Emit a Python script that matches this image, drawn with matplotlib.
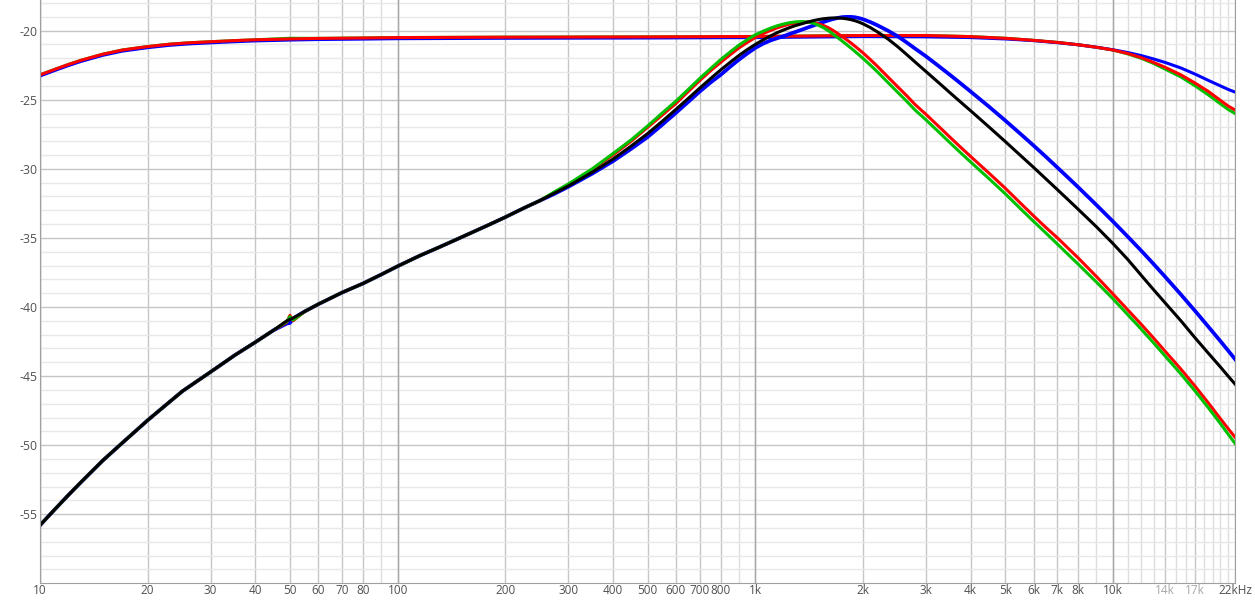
import numpy as np
import matplotlib
matplotlib.use("Agg")
from matplotlib import pyplot as plt
from matplotlib.ticker import FixedLocator, NullFormatter

plt.rcParams["axes.unicode_minus"] = False

# flat (full range) traces
flat_freq = [10, 11, 12, 13, 15, 17, 20, 23, 26, 30, 35, 40, 50, 60, 80, 100, 200, 500, 1000,
             1500, 2000, 3000, 4000, 5000, 6000, 7000, 8000, 9000, 10000, 11000, 12000, 13000,
             14000, 15500, 17000, 18500, 20000, 21000, 22000]
flat_red = [-23.2, -22.8, -22.45, -22.15, -21.7, -21.4, -21.15, -20.98, -20.88, -20.8, -20.72,
            -20.66, -20.6, -20.56, -20.53, -20.5, -20.47, -20.45, -20.42, -20.38, -20.35,
            -20.35, -20.43, -20.55, -20.7, -20.85, -21.02, -21.2, -21.4, -21.65, -21.95,
            -22.3, -22.65, -23.2, -23.8, -24.4, -25.05, -25.45, -25.75]
flat_green = [-23.2, -22.8, -22.45, -22.15, -21.7, -21.4, -21.15, -20.98, -20.88, -20.8, -20.72,
              -20.66, -20.55, -20.56, -20.53, -20.5, -20.47, -20.45, -20.42, -20.38, -20.35,
              -20.35, -20.43, -20.55, -20.7, -20.85, -21.02, -21.2, -21.4, -21.68, -22.0,
              -22.37, -22.78, -23.35, -24.0, -24.65, -25.3, -25.7, -26.0]
flat_blue = [-23.28, -22.88, -22.53, -22.23, -21.78, -21.48, -21.23, -21.06, -20.96, -20.88,
             -20.8, -20.74, -20.68, -20.64, -20.61, -20.58, -20.55, -20.53, -20.5, -20.46,
             -20.43, -20.45, -20.5, -20.6, -20.72, -20.87, -21.02, -21.2, -21.38, -21.58,
             -21.8, -22.05, -22.3, -22.7, -23.15, -23.6, -24.0, -24.25, -24.45]

# band-pass traces
bp_freq = [10, 11, 12, 13, 14, 15, 17, 20, 22, 25, 30, 35, 40, 45, 49, 50, 51, 55, 60, 70, 80,
           90, 100, 115, 130, 145, 160, 180, 200, 225, 250, 275, 300, 350, 400, 450, 500, 550,
           600, 650, 700, 750, 800, 850, 900, 950, 1000, 1050, 1100, 1150, 1200, 1250, 1300,
           1350, 1400, 1450, 1500, 1550, 1600, 1650, 1700, 1750, 1800, 1850, 1900, 1950, 2000,
           2100, 2200, 2350, 2500, 2650, 2800, 3000, 3250, 3500, 3750, 4000, 4500, 5000, 5500,
           6000, 6500, 7000, 7500, 8000, 9000, 10000, 11000, 12000, 13000, 14000, 15500, 17000,
           18500, 20000, 21000, 22000]
low_end = [-55.8, -54.65, -53.62, -52.7, -51.87, -51.1, -49.83, -48.2, -47.3, -46.1, -44.7,
           -43.5, -42.55, -41.68]
mid_end = [-40.32, -39.8, -38.95, -38.3, -37.65, -37.05, -36.3, -35.7, -35.15, -34.65, -34.05,
           -33.5, -32.85, -32.3]

bp_green = low_end + [-41.05, -40.7, -40.95] + mid_end + [
    -31.65, -31.1, -30.0, -28.9, -27.9, -26.9, -25.95, -25.1, -24.25, -23.45, -22.75, -22.1,
    -21.55, -21.05, -20.65, -20.3, -20.05, -19.83, -19.65, -19.52, -19.42, -19.36, -19.34,
    -19.37, -19.45, -19.6, -19.78, -20.0, -20.25, -20.5, -20.75, -21.0, -21.25, -21.5, -21.75,
    -22.0, -22.5, -23.0, -23.75, -24.45, -25.1, -25.75, -26.45, -27.3, -28.1, -28.83,
    -29.5, -30.7, -31.8, -32.85, -33.8, -34.65, -35.45, -36.2, -36.9, -38.2, -39.4, -40.55,
    -41.6, -42.6, -43.55, -44.85, -46.1, -47.3, -48.45, -49.2, -49.9]
bp_red = low_end + [-41.1, -40.6, -41.0] + mid_end + [
    -31.7, -31.15, -30.05, -29.0, -28.0, -27.0, -26.1, -25.27, -24.4, -23.6, -22.9, -22.3,
    -21.75, -21.25, -20.85, -20.5, -20.22, -20.0, -19.8, -19.65, -19.52, -19.44, -19.39,
    -19.38, -19.42, -19.5, -19.62, -19.78, -19.98, -20.2, -20.42, -20.65, -20.88, -21.12,
    -21.36, -21.6, -22.1, -22.6, -23.35, -24.05, -24.7, -25.35, -26.05, -26.9, -27.7,
    -28.43, -29.1, -30.3, -31.4, -32.45, -33.4, -34.25, -35.0, -35.75, -36.45, -37.8,
    -39.05, -40.2, -41.25, -42.25, -43.2, -44.5, -45.75, -46.95, -48.1, -48.8, -49.45]
bp_black = low_end + [-41.0, -40.9, -40.8] + mid_end + [
    -31.75, -31.25, -30.25, -29.3, -28.35, -27.45, -26.55, -25.7, -24.9, -24.15, -23.47,
    -22.85, -22.3, -21.8, -21.37, -21.0, -20.68, -20.4, -20.15, -19.95, -19.77, -19.62,
    -19.5, -19.38, -19.28, -19.2, -19.14, -19.1, -19.08, -19.08, -19.1, -19.14, -19.2, -19.28,
    -19.38, -19.5, -19.78, -20.1, -20.6, -21.15, -21.72, -22.27, -22.95, -23.74, -24.48,
    -25.16, -25.79, -26.96, -28.02, -29.0, -29.89, -30.73, -31.51, -32.24, -32.93, -34.2,
    -35.4, -36.55, -37.7, -38.75, -39.7, -41.0, -42.25, -43.35, -44.35, -45.0, -45.6]
bp_blue = low_end + [-41.2, -41.15, -40.85] + mid_end + [
    -31.8, -31.3, -30.35, -29.45, -28.55, -27.7, -26.8, -25.95, -25.15, -24.4, -23.75, -23.2,
    -22.62, -22.1, -21.65, -21.25, -20.95, -20.72, -20.55, -20.4, -20.23, -20.08, -19.93,
    -19.78, -19.64, -19.5, -19.38, -19.26, -19.16, -19.08, -19.02, -19.0, -19.0, -19.03,
    -19.09, -19.17, -19.38, -19.62, -20.0, -20.4, -20.85, -21.3, -21.85, -22.54, -23.19,
    -23.81, -24.4, -25.49, -26.5, -27.44, -28.31, -29.13, -29.91, -30.64, -31.33, -32.62,
    -33.8, -34.9, -35.92, -36.89, -37.81, -39.1, -40.3, -41.43, -42.48, -43.15, -43.8]

x_labels = ["10", "20", "30", "40", "50", "60", "70", "80", "100", "200", "300", "400", "500",
            "600", "700", "800", "1k", "2k", "3k", "4k", "5k", "6k", "7k", "8k", "10k", "14k",
            "17k", "22kHz"]
x_label_pos = [10, 20, 30, 40, 50, 60, 70, 80, 100, 200, 300, 400, 500, 600, 700, 800, 1000,
               2000, 3000, 4000, 5000, 6000, 7000, 8000, 10000, 14000, 17000, 22000]
x_extra_grid = [90, 900, 9000, 11000, 12000, 13000, 15000, 16000, 18000, 19000, 20000, 21000]
decades = [10, 100, 1000, 10000]
y_ticks = [-20, -25, -30, -35, -40, -45, -50, -55]

fig = plt.figure(figsize=(12.55, 6), dpi=100)
ax = fig.add_axes([40 / 1255, 16.7 / 600, 1195.3 / 1255, 583.3 / 600])
ax.set_xscale("log")
ax.set_xlim(10, 22000)
ax.set_ylim(-60, -17.78)

# grid
ax.xaxis.set_major_locator(FixedLocator(x_label_pos))
ax.xaxis.set_minor_locator(FixedLocator(x_extra_grid))
ax.xaxis.set_minor_formatter(NullFormatter())
ax.set_xticklabels(x_labels)
ax.yaxis.set_major_locator(FixedLocator(y_ticks))
ax.yaxis.set_minor_locator(FixedLocator(list(range(-59, -17))))
ax.grid(which="major", axis="x", color="#c6c6c6", lw=1.0)
ax.grid(which="minor", axis="x", color="#dedede", lw=1.0)
ax.grid(which="major", axis="y", color="#c6c6c6", lw=1.0)
ax.grid(which="minor", axis="y", color="#e8e8e8", lw=1.0)
for d in decades:
    ax.axvline(d, color="#a8a8a8", lw=1.0, zorder=0.6)
ax.set_axisbelow(True)

ax.tick_params(which="both", length=0)
ax.tick_params(axis="x", pad=0.6, labelsize=8.5, labelcolor="#505050")
ax.tick_params(axis="y", pad=1.5, labelsize=8.8, labelcolor="#505050")
for lab in ax.get_xticklabels():
    lab.set_fontfamily("Open Sans")
    if lab.get_text() in ("14k", "17k"):
        lab.set_color("#a8a8a8")
for lab in ax.get_yticklabels():
    lab.set_fontfamily("Open Sans")

for side in ["left", "bottom", "right"]:
    ax.spines[side].set_color("#a0a0a0")
ax.spines["top"].set_visible(False)

# traces
ax.plot(flat_freq, flat_green, color="#00c000", lw=2.2)
ax.plot(flat_freq, flat_blue, color="#0000ff", lw=2.2)
ax.plot(flat_freq, flat_red, color="#ff0000", lw=2.2)
ax.plot(bp_freq, bp_blue, color="#0000ff", lw=2.7)
ax.plot(bp_freq, bp_red, color="#ff0000", lw=2.2)
ax.plot(bp_freq, bp_green, color="#00c000", lw=2.2)
ax.plot(bp_freq, bp_black, color="#000000", lw=2.2)

plt.savefig("out.png", dpi=100)
